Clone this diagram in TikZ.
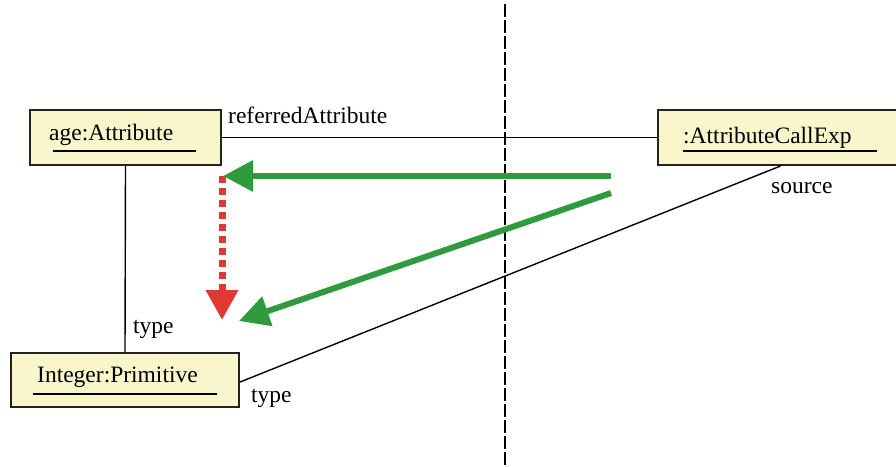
\documentclass[tikz,border=0pt]{standalone}
\usepackage{fontspec}
\setmainfont{Liberation Serif}
\usetikzlibrary{arrows.meta}
\definecolor{boxfill}{RGB}{249,246,203}
\definecolor{boxline}{RGB}{35,35,35}
\definecolor{arrgreen}{RGB}{47,155,60}
\definecolor{arrred}{RGB}{224,57,52}
\tikzset{
  objbox/.style={draw=boxline, fill=boxfill, line width=2pt, rectangle, inner sep=0pt},
  lbl/.style={anchor=base west, inner sep=0pt, font=\fontsize{23.5}{28}\selectfont},
  uline/.style={line width=2pt, black},
  assoc/.style={line width=1.4pt, black},
  greenarr/.style={draw=arrgreen, line width=6pt, -{Triangle[length=30pt,width=30pt]}},
  redarr/.style={draw=arrred, line width=7pt, dash pattern=on 7pt off 5pt, -{Triangle[length=30pt,width=31pt]}},
  divider/.style={line width=2pt, black, dash pattern=on 13pt off 3pt}
}
\begin{document}
\begin{tikzpicture}[x=1pt,y=-1pt]
\useasboundingbox (0,0) rectangle (896,466);
% divider
\draw[divider] (505,4) -- (505,466);
% boxes
\node[objbox, minimum width=191pt, minimum height=55pt] (age) at (125.5,137.5) {};
\node[objbox, minimum width=241pt, minimum height=55pt] (ace) at (778.5,137.5) {};
\node[objbox, minimum width=228pt, minimum height=54pt] (int) at (125,380) {};
% texts
\node[lbl] (agetxt) at (49,140) {age:Attribute};
\node[lbl] (acetxt) at (683,143) {:AttributeCallExp};
\node[lbl] (inttxt) at (37,382) {Integer:Primitive};
\draw[uline] (53,151) -- (196,151);
\draw[uline] (683,151) -- (877,151);
\draw[uline] (33,394) -- (217,394);
% associations
\draw[assoc] (age.east) -- (age.east -| ace.west);
\draw[assoc] (age.south) -- (int.north);
\draw[assoc] ([xshift=2pt]ace.south) -- ([yshift=-2pt]int.east);
% labels
\node[lbl] (lref) at (228,123) {referredAttribute};
\node[lbl] (lsrc) at (771,193) {source};
\node[lbl] (ltype1) at (133,333) {type};
\node[lbl] (ltype2) at (251,402) {type};
% arrows
\coordinate (g1s) at (611,176);
\coordinate (g1e) at (223,176);
\coordinate (g2s) at (611,193);
\coordinate (g2e) at (239,321);
\coordinate (rs) at (222,176);
\coordinate (re) at (222,320);
\draw[redarr] (rs) -- (re);
\draw[greenarr] (g1s) -- (g1e);
\draw[greenarr] (g2s) -- (g2e);
\end{tikzpicture}
\end{document}
